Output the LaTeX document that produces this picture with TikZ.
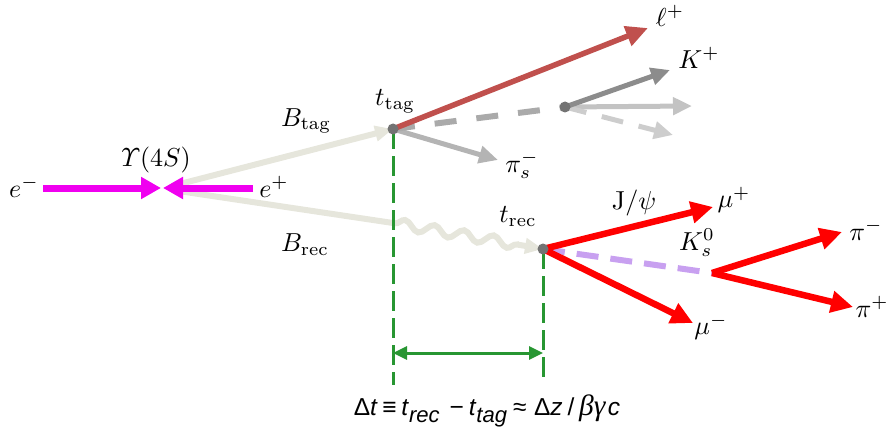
\documentclass[tikz,border=0pt]{standalone}
\usepackage{amsmath}
\usepackage{graphicx}
\usepackage{fontspec}
\newfontfamily\arialf{Liberation Sans}
\newfontfamily\timesf{Liberation Serif}
\usetikzlibrary{arrows.meta,decorations.pathmorphing}
\definecolor{mag}{RGB}{240,0,240}
\definecolor{bgray}{RGB}{230,230,220}
\definecolor{lred}{RGB}{192,80,77}
\definecolor{dgreen}{RGB}{40,150,50}
\definecolor{kviolet}{RGB}{200,160,240}
\definecolor{gdash}{RGB}{170,170,170}
\definecolor{gpis}{RGB}{180,180,180}
\definecolor{gkp}{RGB}{140,140,140}
\definecolor{glight}{RGB}{195,195,195}
\definecolor{glighter}{RGB}{205,205,205}
\definecolor{gdot}{RGB}{115,115,115}
\newcommand{\mylbl}[1]{\scalebox{2.6}{$#1$}}
\newcommand{\fsub}[1]{\lower2.6pt\hbox{\fontsize{9}{10}\selectfont\textit{#1}}}
\begin{document}
\begin{tikzpicture}[x=1pt,y=-1pt,
  lbl/.style={inner sep=0pt},
  magarrow/.style={draw=mag, line width=7pt, -{Triangle[length=20pt,width=21pt]}, fill=mag},
  bline/.style={draw=bgray, line width=6pt},
  redarrow/.style={draw=red, line width=6.5pt, -{Triangle[length=22pt,width=21pt]}},
  lredarrow/.style={draw=lred, line width=5.5pt, -{Triangle[length=22pt,width=20pt]}},
  grayarrow/.style={line width=5pt, -{Triangle[length=19pt,width=17pt]}},
  greendash/.style={draw=dgreen, line width=3pt, dash pattern=on 20pt off 7pt},
  vdot/.style={circle, fill=gdot, inner sep=0pt, minimum size=11pt}]
\useasboundingbox (0,0) rectangle (891,433);

% coordinates
\coordinate (emS) at (43,188);
\coordinate (epS) at (253,188);
\coordinate (ipL) at (161,188);
\coordinate (ipR) at (163,188);
\coordinate (bS1) at (172,186);
\coordinate (bS2) at (172,190);
\coordinate (tag) at (393,129);
\coordinate (brk) at (393,223);
\coordinate (rec) at (543,249);
\coordinate (dv) at (565,107);
\coordinate (ks) at (712,273);
\coordinate (lp) at (648,28);
\coordinate (kp) at (670,70);
\coordinate (x1) at (692,106);
\coordinate (x2) at (673,135);
\coordinate (pis) at (498,160);
\coordinate (mup) at (713,207);
\coordinate (mum) at (693,323);
\coordinate (pim) at (842,232);
\coordinate (pip) at (853,307);
\coordinate (tagE) at (393,385);
\coordinate (recE) at (543,382);
\coordinate (dl) at (393,353);
\coordinate (dr) at (543,353);

% B mesons
\draw[bline, -{Triangle[length=18pt,width=15pt]}] (bS1) -- (tag);
\draw[bline] (bS2) -- (brk);
\draw[bline, -{Triangle[length=18pt,width=15pt]}, decorate,
  decoration={snake, amplitude=5pt, segment length=30pt, pre length=2pt, post length=20pt}] (brk) -- (rec);

% beams
\draw[magarrow] (emS) -- (ipL);
\draw[magarrow] (epS) -- (ipR);

% green time lines
\draw[greendash] (tag) -- (tagE);
\draw[greendash] (rec) -- (recE);
\draw[draw=dgreen, line width=3pt, {Triangle[length=14pt,width=13pt]}-{Triangle[length=14pt,width=13pt]}] (dl) -- (dr);

% tag side
\draw[grayarrow, draw=gpis] (tag) -- (pis);
\draw[draw=gdash, line width=6pt, dash pattern=on 22pt off 20pt] (tag) -- (dv);
\draw[grayarrow, draw=glight] (dv) -- (x1);
\draw[grayarrow, draw=glighter, dash pattern=on 22pt off 16pt] (dv) -- (x2);
\draw[grayarrow, draw=gkp] (dv) -- (kp);
\draw[lredarrow] (tag) -- (lp);
\node[vdot] (dvd) at (dv) {};
\node[vdot] (tagd) at (tag) {};

% rec side
\draw[draw=kviolet, line width=6pt, dash pattern=on 22pt off 12pt] (rec) -- (ks);
\draw[redarrow] (rec) -- (mup);
\draw[redarrow] (rec) -- (mum);
\draw[redarrow] (ks) -- (pim);
\draw[redarrow] (ks) -- (pip);
\node[vdot] (recd) at (rec) {};

% labels
\node[lbl] (lem) at (24,187) {\mylbl{e^-}};
\node[lbl] (lups) at (156,160) {\mylbl{\varUpsilon(4S)}};
\node[lbl] (lep) at (274,187) {\mylbl{e^+}};
\node[lbl] (lbt) at (306,121) {\mylbl{B_{\mathrm{tag}}}};
\node[lbl] (ltt) at (395,101) {\mylbl{t_{\mathrm{tag}}}};
\node[lbl] (lbr) at (305,245) {\mylbl{B_{\mathrm{rec}}}};
\node[lbl] (ltr) at (518,217) {\mylbl{t_{\mathrm{rec}}}};
\node[lbl] (llp) at (670,16) {\mylbl{\ell^+}};
\node[lbl] (lkp) at (699,58) {\mylbl{K^+}};
\node[lbl] (lpis) at (522,165) {\mylbl{\pi_s^-}};
\node[lbl] (ljpsi) at (634,203) {\mylbl{\mathrm{J}/\psi}};
\node[lbl] (lmup) at (734,200) {\mylbl{\mu^+}};
\node[lbl] (lks) at (697,243) {\mylbl{K_s^0}};
\node[lbl] (lpim) at (866,230) {\mylbl{\pi^-}};
\node[lbl] (lmum) at (711,327) {\mylbl{\mu^-}};
\node[lbl] (lpip) at (872,307) {\mylbl{\pi^+}};
\node[inner sep=0pt] (form) at (487,411)
  {\scalebox{2.45}{\arialf\fontsize{10}{12}\selectfont Δ\textit{t}\hspace{1.8pt}≡\hspace{2pt}\textit{t}\fsub{rec}\hspace{4pt}−\hspace{2pt}\textit{t}\fsub{tag}\hspace{2.5pt}≈\hspace{3pt}Δ\textit{z}\hspace{2pt}/\hspace{2pt}{\timesf\itshape\fontsize{12}{12}\selectfont βγ}\hspace{1pt}\textit{c}}};
\end{tikzpicture}
\end{document}
